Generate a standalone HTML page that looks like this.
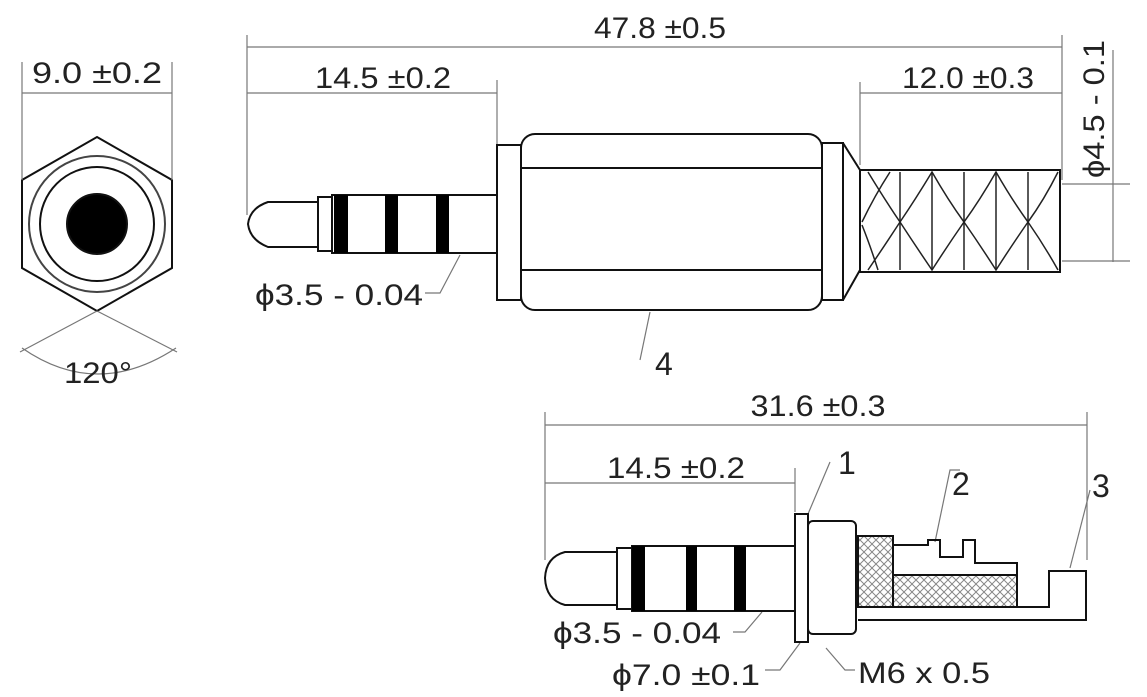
<!DOCTYPE html>
<html><head><meta charset="utf-8"><style>
html,body{margin:0;padding:0;background:#fff;width:1147px;height:697px;overflow:hidden}
text{font-family:"Liberation Sans",sans-serif;fill:#222}
</style></head><body>
<svg width="1147" height="697" viewBox="0 0 1147 697" xmlns="http://www.w3.org/2000/svg">
<defs>
<pattern id="h" width="8" height="8" patternUnits="userSpaceOnUse">
<path d="M0 8L8 0M0 0L8 8" stroke="#888" stroke-width="1"/>
</pattern>
</defs>
<g fill="none" stroke="#111" stroke-width="2">
<polygon points="97,137 172,180 172,268 97,311 22,268 22,180"/>
<circle cx="97" cy="224" r="68" stroke="#444"/>
<circle cx="97" cy="224" r="57"/>
<circle cx="97" cy="224" r="30" fill="#000"/>
</g>
<g stroke="#777" stroke-width="1.2" fill="none">
<line x1="22" y1="62" x2="22" y2="180"/><line x1="172" y1="62" x2="172" y2="180"/>
<line x1="22" y1="93" x2="172" y2="93"/>
<line x1="97" y1="311" x2="20" y2="352"/><line x1="97" y1="311" x2="177" y2="352"/>
<path d="M22 348 Q97 400 176 348"/>
<line x1="247" y1="35" x2="247" y2="215"/><line x1="1062" y1="35" x2="1062" y2="180"/>
<line x1="247" y1="47" x2="1062" y2="47"/>
<line x1="247" y1="93" x2="497" y2="93"/><line x1="497" y1="80" x2="497" y2="145"/>
<line x1="860" y1="82" x2="860" y2="165"/><line x1="860" y1="93" x2="1062" y2="93"/>
<line x1="1113" y1="50" x2="1113" y2="262"/>
<line x1="1062" y1="184" x2="1130" y2="184"/><line x1="1062" y1="261" x2="1130" y2="261"/>
<path d="M460 255 L440 293 L425 293"/>
<path d="M650 312 L640 360"/>
<line x1="545" y1="412" x2="545" y2="560"/><line x1="1087" y1="412" x2="1087" y2="560"/>
<line x1="545" y1="425" x2="1087" y2="425"/>
<line x1="545" y1="483" x2="795" y2="483"/><line x1="795" y1="468" x2="795" y2="512"/>
<path d="M808 514 L830 462"/><path d="M935 542 L950 470 L960 470"/>
<path d="M1070 568 L1090 490"/>
<path d="M762 612 L745 632 L733 632"/><path d="M800 643 L780 670 L765 670"/>
<path d="M826 648 L845 670 L855 670"/>
</g>
<g fill="none" stroke="#111" stroke-width="2">
<path d="M268 202 L318 202 L318 247 L268 247 Q250 240 248 224 Q250 208 268 202Z"/>
<rect x="318" y="197" width="14" height="54"/>
<rect x="332" y="195" width="165" height="58"/>
<rect x="497" y="145" width="24" height="155"/>
<rect x="521" y="134" width="301" height="176" rx="14"/>
<line x1="521" y1="168" x2="822" y2="168"/><line x1="521" y1="270" x2="822" y2="270"/>
<rect x="822" y="143" width="21" height="157"/>
<path d="M843 143 L860 170 L860 270 L843 300"/>
<rect x="860" y="170" width="200" height="102"/>
<path d="M565 552 L617 552 L617 605 L565 605 Q546 600 545 578 Q546 557 565 552Z"/>
<rect x="617" y="548" width="15" height="61"/>
<rect x="632" y="546" width="163" height="65"/>
<rect x="795" y="514" width="13" height="128"/>
<rect x="808" y="521" width="48" height="113" rx="5"/>
<rect x="858" y="536" width="35" height="71" fill="url(#h)"/>
<rect x="893" y="575" width="124" height="32" fill="url(#h)"/>
<path d="M893 545 L928 545 L928 540 L940 540 L940 557 L963 557 L963 540 L975 540 L975 563 L1017 563 L1017 575"/>
<path d="M858 607 L1049 607 L1049 571 L1086 571 L1086 620 L858 620"/>
</g>
<g fill="#000">
<rect x="334" y="195" width="14" height="58"/><rect x="385" y="195" width="13" height="58"/><rect x="436" y="195" width="13" height="58"/>
<rect x="632" y="546" width="13" height="65"/><rect x="686" y="546" width="11" height="65"/><rect x="734" y="546" width="12" height="65"/>
</g>
<g fill="none" stroke="#222" stroke-width="1.5">
<path d="M868 172 Q885 200 900 222 Q915 200 932 172 Q948 200 964 222 Q980 200 996 172 Q1012 200 1028 222 Q1044 200 1058 172"/>
<path d="M868 270 Q885 245 900 222 Q915 245 932 270 Q948 245 964 222 Q980 245 996 270 Q1012 245 1028 222 Q1044 245 1058 270"/>
<path d="M862 222 Q875 195 890 172 M878 270 Q870 245 862 225"/>
<line x1="900" y1="172" x2="900" y2="270"/><line x1="964" y1="172" x2="964" y2="270"/><line x1="1028" y1="172" x2="1028" y2="270"/>
<line x1="932" y1="172" x2="932" y2="270"/><line x1="996" y1="172" x2="996" y2="270"/>
</g>
<g font-size="30">
<text x="97" y="83" text-anchor="middle" textLength="130" lengthAdjust="spacingAndGlyphs">9.0 ±0.2</text>
<text x="98" y="383" text-anchor="middle" textLength="68" lengthAdjust="spacingAndGlyphs">120°</text>
<text x="660" y="38" text-anchor="middle" textLength="132" lengthAdjust="spacingAndGlyphs">47.8 ±0.5</text>
<text x="383" y="88" text-anchor="middle" textLength="136" lengthAdjust="spacingAndGlyphs">14.5 ±0.2</text>
<text x="968" y="88" text-anchor="middle" textLength="132" lengthAdjust="spacingAndGlyphs">12.0 ±0.3</text>
<text transform="translate(1104,178) rotate(-90)" x="0" y="0" textLength="138" lengthAdjust="spacingAndGlyphs">ϕ4.5 - 0.1</text>
<text x="255" y="305" textLength="168" lengthAdjust="spacingAndGlyphs">ϕ3.5 - 0.04</text>
<text x="655" y="375" font-size="32">4</text>
<text x="818" y="416" text-anchor="middle" textLength="135" lengthAdjust="spacingAndGlyphs">31.6 ±0.3</text>
<text x="676" y="478" text-anchor="middle" textLength="138" lengthAdjust="spacingAndGlyphs">14.5 ±0.2</text>
<text x="838" y="474" font-size="32">1</text>
<text x="952" y="495" font-size="32">2</text>
<text x="1092" y="497" font-size="32">3</text>
<text x="553" y="643" textLength="168" lengthAdjust="spacingAndGlyphs">ϕ3.5 - 0.04</text>
<text x="612" y="685" textLength="148" lengthAdjust="spacingAndGlyphs">ϕ7.0 ±0.1</text>
<text x="858" y="683" textLength="132" lengthAdjust="spacingAndGlyphs">M6 x 0.5</text>
</g>
</svg>
</body></html>
